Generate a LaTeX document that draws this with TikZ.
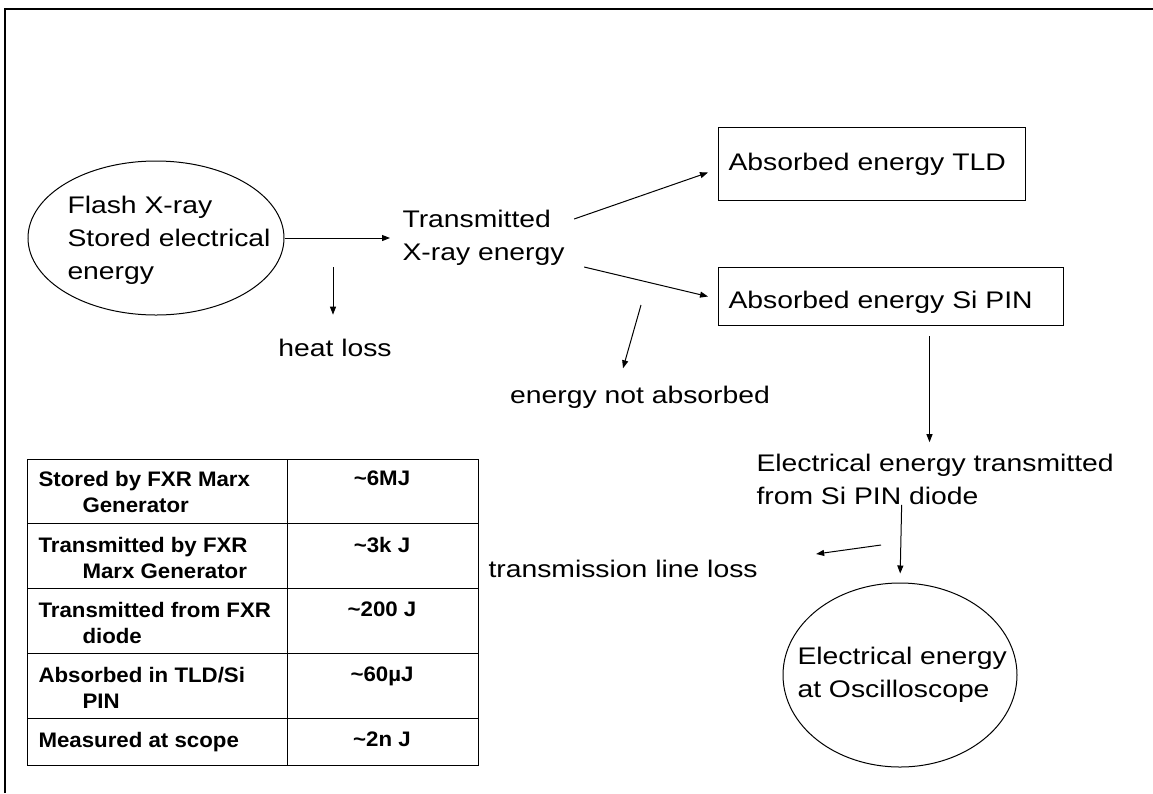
\documentclass[tikz,border=0pt]{standalone}
\usepackage{fontspec}
\setmainfont[FakeStretch=1.18]{Liberation Sans}
\newfontfamily\tabfont[FakeStretch=1.06]{Liberation Sans}
\usetikzlibrary{shapes.geometric,arrows.meta}

\begin{document}
\begin{tikzpicture}[x = 1pt, y = -1pt, line width = 1pt,
                        >={Triangle[length=8pt, width=6pt]},
                        txt/.style = {inner sep = 0pt, align = left, font = \fontsize{24}{33}\selectfont},
                        oval/.style = {ellipse, draw, inner sep = 0pt},
                        box/.style = {rectangle, draw, inner ysep = 0pt, inner xsep = 10pt, align = left,
                                      anchor = north west, font = \fontsize{24}{33}\selectfont},
                        cell/.style = {inner sep = 0pt, align = left, font = \tabfont\bfseries\fontsize{21}{26}\selectfont}]
      \useasboundingbox (0, 0) rectangle (1153, 793);
      \draw[line width = 2.5pt] (5, 793) -- (5, 9) -- (1153, 9);
      % upper chain
      \node [oval, minimum width = 256pt, minimum height = 154pt] (flash) at (156, 238){};
      \node [txt, anchor = west] (flashtext) at (67, 240){Flash X-ray\\Stored electrical\\energy};
      \node [txt, anchor = west] (trans) at (402, 238){Transmitted\\X-ray energy};
      \node [txt] (heat) at (335, 348){heat loss};
      \node [box, text width = 287pt, minimum height = 73pt] (tld) at (718, 127){Absorbed energy TLD};
      \node [box, text width = 325pt, minimum height = 58pt, text height = 24pt, text depth = 0pt] (sipin) at (718, 267){Absorbed energy Si PIN};
      \node [txt] (notabs) at (640, 397){energy not absorbed};
      \node [txt, anchor = west] (elec) at (756, 479){Electrical energy transmitted\\from Si PIN diode};
      \node [txt, anchor = west] (lineloss) at (488, 569){transmission line loss};
      \node [oval, minimum width = 234pt, minimum height = 184pt] (scope) at (900, 675){};
      \node [txt, anchor = west] (scopetext) at (797, 675){Electrical energy\\at Oscilloscope};
      \coordinate (heattop) at (333, 267);
      \coordinate (notabstop) at (641, 305);
      \coordinate (losstap) at (881, 545);
      \draw[->, shorten > = 12pt] (flash.east) -- (trans.west);
      \draw[->, shorten > = 24pt] (heattop) -- (heattop |- heat.north);
      \draw[->] ([xshift = 9pt, yshift = 19pt]trans.east) -- ([xshift = -10pt, yshift = -8.5pt]tld.west);
      \draw[->] ([xshift = 19pt, yshift = -29pt]trans.east) -- ([xshift = -10pt]sipin.west);
      \draw[->] (notabstop) -- ([xshift = -17pt, yshift = 17pt]notabs.north);
      \draw[->] ([xshift = 38.5pt, yshift = -10pt]sipin.south) -- ([xshift = 38.5pt, yshift = 11pt]sipin.south |- elec.north);
      \draw[->, shorten > = 9pt] ([xshift = -33.5pt]elec.south) -- (scope.north);
      \draw[->] (losstap) -- ([xshift = 58pt, yshift = 15pt]lineloss.east);
      % table
      \draw (27, 459) rectangle (478, 765);
      \draw (287, 459) -- (287, 765);
      \draw (27, 523) -- (478, 523);
      \draw (27, 588) -- (478, 588);
      \draw (27, 653) -- (478, 653);
      \draw (27, 718) -- (478, 718);
      \node [cell, anchor = north west] (row1) at (38, 470.5){Stored by FXR Marx\\\hspace*{44pt}Generator};
      \node [cell, anchor = north west] (row2) at (38, 536.5){Transmitted by FXR\\\hspace*{44pt}Marx Generator};
      \node [cell, anchor = north west] (row3) at (38, 601.5){Transmitted from FXR\\\hspace*{44pt}diode};
      \node [cell, anchor = north west] (row4) at (38, 666.5){Absorbed in TLD/Si\\\hspace*{44pt}PIN};
      \node [cell, anchor = north west] (row5) at (38, 731.5){Measured at scope};
      \node [cell, anchor = north] (val1) at (382, 470.5){\textasciitilde 6MJ};
      \node [cell, anchor = north] (val2) at (382, 536.5){\textasciitilde 3k J};
      \node [cell, anchor = north] (val3) at (382, 601.5){\textasciitilde 200 J};
      \node [cell, anchor = north] (val4) at (382, 666.5){\textasciitilde 60µJ};
      \node [cell, anchor = north] (val5) at (382, 731.5){\textasciitilde 2n J};
    \end{tikzpicture}
\end{document}
